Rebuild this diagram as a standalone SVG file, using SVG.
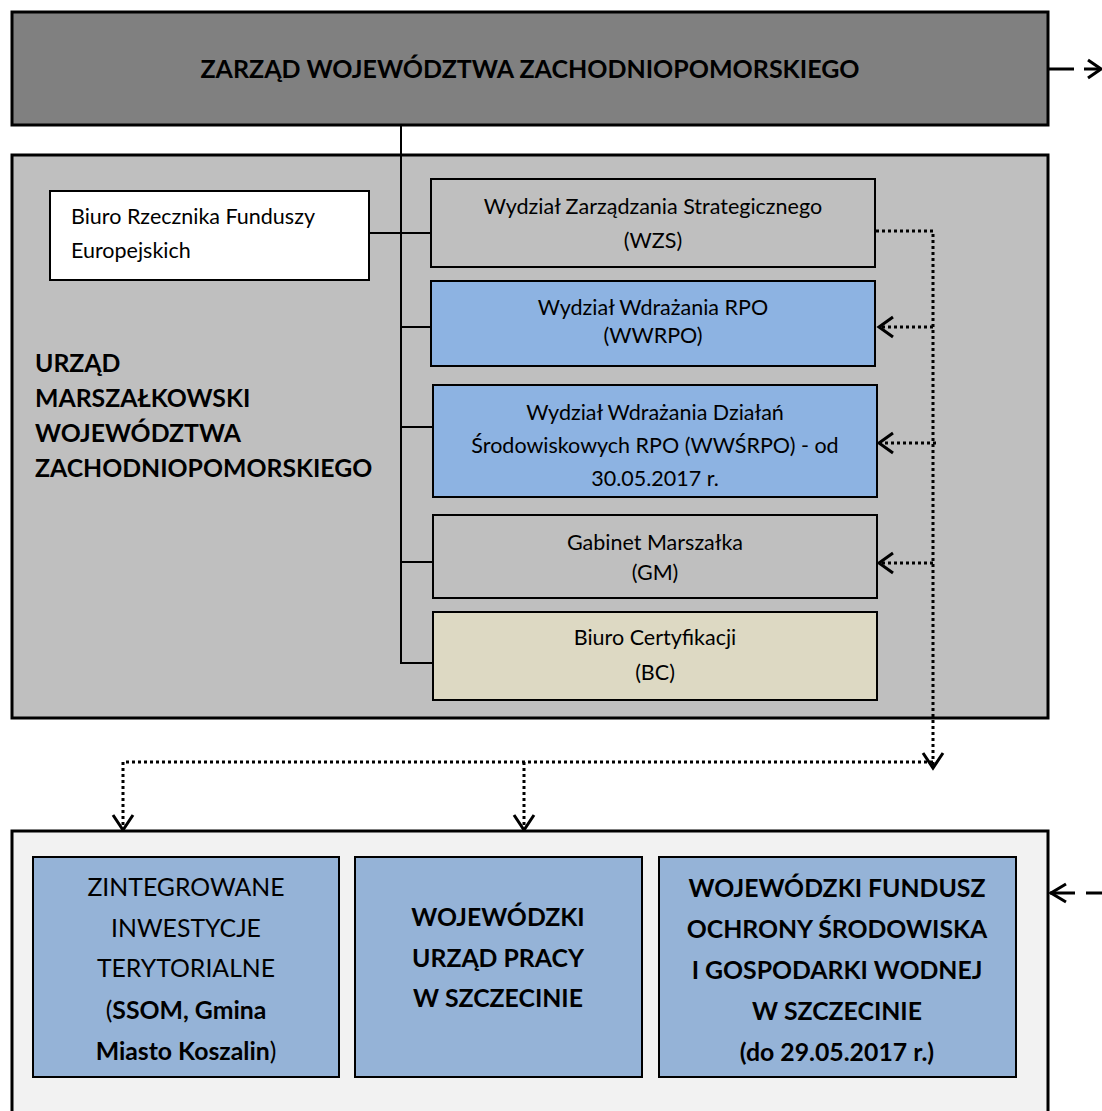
<svg xmlns="http://www.w3.org/2000/svg" width="1102" height="1111" viewBox="0 0 1102 1111">
<style>
text{font-family:Lato,"Open Sans","Liberation Sans",sans-serif;fill:#000}
.t{font-size:21.5px;text-anchor:middle}
.b{font-weight:bold}
.big{font-size:24.8px;text-anchor:middle}
.um{font-size:24.8px;font-weight:bold}
.frame{stroke:#000;stroke-width:3}
.box{stroke:#000;stroke-width:2}
.ln{stroke:#000;stroke-width:2;fill:none}
.dot{stroke:#000;stroke-width:3;stroke-dasharray:3 3;fill:none}
.head{stroke:#000;stroke-width:3;fill:none;stroke-linejoin:miter}
</style>
<rect width="1102" height="1111" fill="#fff"/>
<g id="zarzad">
<rect class="frame" x="12" y="12" width="1036" height="113" fill="#808080"/>
<text x="530" y="78" class="b" style="font-size:25px;text-anchor:middle">ZARZĄD WOJEWÓDZTWA ZACHODNIOPOMORSKIEGO</text>
</g>
<g id="urzad">
<rect class="frame" x="12" y="155" width="1036" height="563" fill="#bfbfbf"/>
<text x="35" y="372" class="um">URZĄD</text>
<text x="35" y="407" class="um">MARSZAŁKOWSKI</text>
<text x="35" y="442" class="um">WOJEWÓDZTWA</text>
<text x="35" y="477" class="um">ZACHODNIOPOMORSKIEGO</text>
</g>
<g id="connectors">
<path class="ln" d="M401,125 V663 H433 M370,233 H431 M401,327 H431 M401,427 H433 M401,562 H433"/>
<path class="dot" d="M876,231 H933 V766"/>
<path class="dot" d="M933,327 H880 M936,443 H880 M933,563 H880"/>
<path class="dot" d="M933,762 H123 V829 M524,762 V829"/>
<path class="head" d="M893,317 L879,327 L893,337 M893,433 L879,443 L893,453 M893,553 L879,563 L893,573"/>
<path class="head" d="M923,753 L933,768 L943,753 M113,815 L123,830 L133,815 M514,815 L524,830 L534,815"/>
<path class="ln" style="stroke-width:3" d="M1049,69 H1074 M1084,69 H1100"/>
<path class="head" d="M1088,60 L1101,69 L1088,78"/>
<path class="ln" style="stroke-width:3" d="M1050,893 H1075 M1086,893 H1102"/>
<path class="head" d="M1066,884 L1051,893 L1066,902"/>
</g>
<g id="biuro-rzecznika">
<rect class="box" x="50" y="191" width="319" height="89" fill="#fff"/>
<text x="71" y="224" style="font-size:21.5px">Biuro Rzecznika Funduszy</text>
<text x="71" y="258" style="font-size:21.5px">Europejskich</text>
</g>
<g id="wzs">
<rect class="box" x="431" y="179" width="444" height="88" fill="#bfbfbf"/>
<text x="653" y="214" class="t">Wydział Zarządzania Strategicznego</text>
<text x="653" y="248" class="t">(WZS)</text>
</g>
<g id="wwrpo">
<rect class="box" x="431" y="281" width="444" height="85" fill="#8db3e2"/>
<text x="653" y="315" class="t">Wydział Wdrażania RPO</text>
<text x="653" y="343" class="t">(WWRPO)</text>
</g>
<g id="wwsrpo">
<rect class="box" x="433" y="385" width="444" height="112" fill="#8db3e2"/>
<text x="655" y="420" class="t">Wydział Wdrażania Działań</text>
<text x="655" y="453" class="t">Środowiskowych RPO (WWŚRPO) - od</text>
<text x="655" y="486" class="t">30.05.2017 r.</text>
</g>
<g id="gm">
<rect class="box" x="433" y="515" width="444" height="83" fill="#bfbfbf"/>
<text x="655" y="550" class="t">Gabinet Marszałka</text>
<text x="655" y="580" class="t">(GM)</text>
</g>
<g id="bc">
<rect class="box" x="433" y="612" width="444" height="88" fill="#ddd9c3"/>
<text x="655" y="645" class="t">Biuro Certyfikacji</text>
<text x="655" y="680" class="t">(BC)</text>
</g>
<g id="dolny">
<rect class="frame" x="12" y="831" width="1036" height="290" fill="#f2f2f2"/>
</g>
<g id="zit">
<rect class="box" x="33" y="857" width="306" height="220" fill="#95b3d7"/>
<text x="186" y="896" class="big">ZINTEGROWANE</text>
<text x="186" y="937" class="big">INWESTYCJE</text>
<text x="186" y="977" class="big">TERYTORIALNE</text>
<text x="186" y="1019" class="big">(<tspan class="b">SSOM, Gmina</tspan></text>
<text x="186" y="1060" class="big"><tspan class="b">Miasto Koszalin</tspan>)</text>
</g>
<g id="wup">
<rect class="box" x="355" y="857" width="287" height="220" fill="#95b3d7"/>
<text x="498" y="926" class="big b">WOJEWÓDZKI</text>
<text x="498" y="967" class="big b">URZĄD PRACY</text>
<text x="498" y="1007" class="big b">W SZCZECINIE</text>
</g>
<g id="wfos">
<rect class="box" x="659" y="857" width="357" height="220" fill="#95b3d7"/>
<text x="837" y="897" class="big b">WOJEWÓDZKI FUNDUSZ</text>
<text x="837" y="938" class="big b">OCHRONY ŚRODOWISKA</text>
<text x="837" y="979" class="big b">I GOSPODARKI WODNEJ</text>
<text x="837" y="1020" class="big b">W SZCZECINIE</text>
<text x="837" y="1061" class="big b">(do 29.05.2017 r.)</text>
</g>
</svg>
